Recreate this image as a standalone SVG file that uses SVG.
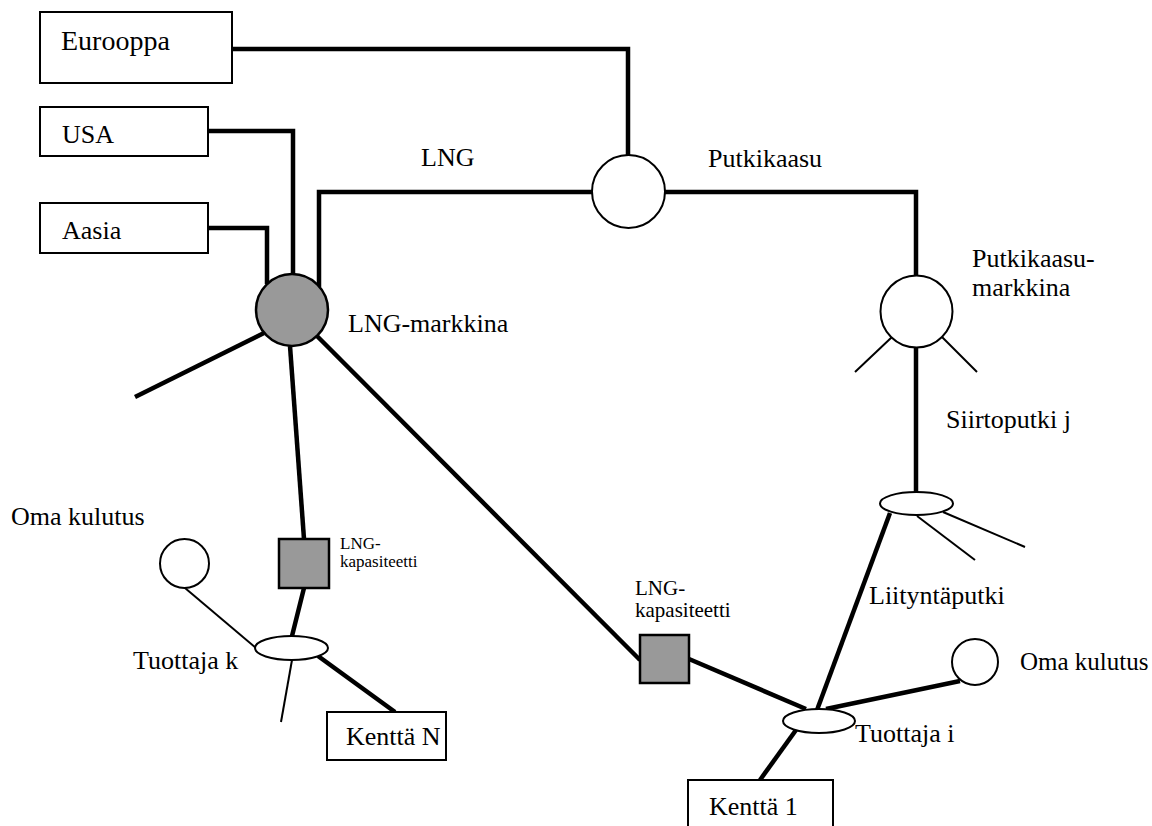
<svg xmlns="http://www.w3.org/2000/svg" width="1152" height="826" viewBox="0 0 1152 826">
<style>
.bg{fill:#fff}
.box{fill:#fff;stroke:#000;stroke-width:2}
.node{fill:#fff;stroke:#000;stroke-width:2}
.gray{fill:#999;stroke:#000;stroke-width:2.5}
.thick{fill:none;stroke:#000;stroke-width:4.5;stroke-linecap:butt;stroke-linejoin:miter}
.thin{fill:none;stroke:#000;stroke-width:2}
text{font-family:"Liberation Serif","Times New Roman",serif;fill:#000}
.t{font-size:26px}
.s{font-size:17px}
.s2{font-size:21px}
</style>
<rect class="bg" x="0" y="0" width="1152" height="826"/>
<g id="connectors">
<path class="thick" d="M232,49 H628 V155"/>
<path class="thick" d="M208,131 H293 V274"/>
<path class="thick" d="M208,228 H267 V284"/>
<path class="thick" d="M319,287 V192 H592"/>
<path class="thick" d="M665,192 H916 V275"/>
<path class="thick" d="M916,348 V492"/>
<path class="thick" d="M890,513 L817,710"/>
<path class="thick" d="M290,346 L304,539"/>
<path class="thick" d="M304,588 L292,636"/>
<path class="thick" d="M318,656 L395,712"/>
<path class="thick" d="M317,336 L640,660"/>
<path class="thick" d="M689,659 L806,709"/>
<path class="thick" d="M826,709 L960,681"/>
<path class="thick" d="M760,780 L796,730"/>
<path class="thick" d="M264,333 L135,397"/>
<path class="thin" d="M892,337 L855,372"/>
<path class="thin" d="M942,337 L977,372"/>
<path class="thin" d="M917,516 L975,560"/>
<path class="thin" d="M943,512 L1025,547"/>
<path class="thin" d="M185,588 L256,648"/>
<path class="thin" d="M292,660 L281,722"/>
</g>
<g id="eurooppa"><rect class="box" x="40" y="12" width="192" height="71"/><text x="61" y="50" style="font-size:28px">Eurooppa</text></g>
<g id="usa"><rect class="box" x="40" y="107" width="168" height="49"/><text class="t" x="62" y="143">USA</text></g>
<g id="aasia"><rect class="box" x="40" y="203" width="168" height="50"/><text class="t" x="62" y="239">Aasia</text></g>
<g id="hub"><circle class="node" cx="628.5" cy="191.5" r="36.5"/></g>
<g id="label-lng"><text class="t" x="421" y="166">LNG</text></g>
<g id="label-putkikaasu"><text class="t" x="708" y="167">Putkikaasu</text></g>
<g id="lng-markkina"><circle class="gray" cx="292" cy="310" r="36"/><text class="t" x="348" y="332">LNG-markkina</text></g>
<g id="putkikaasu-markkina"><circle class="node" cx="916.5" cy="311.5" r="36"/><text class="t" x="972" y="267">Putkikaasu-</text><text class="t" x="972" y="296">markkina</text></g>
<g id="siirtoputki"><ellipse class="node" cx="916.5" cy="503.5" rx="36.5" ry="11.5"/><text class="t" x="946" y="428">Siirtoputki j</text></g>
<g id="liityntaputki"><text class="t" x="869" y="604">Liityntäputki</text></g>
<g id="oma-kulutus-k"><circle class="node" cx="184.5" cy="563.5" r="24.5"/><text class="t" x="11" y="525">Oma kulutus</text></g>
<g id="lng-kap-k"><rect class="gray" x="279" y="539" width="50" height="49"/><text class="s" x="340" y="549">LNG-</text><text class="s" x="340" y="567">kapasiteetti</text></g>
<g id="tuottaja-k"><ellipse class="node" cx="291.5" cy="648" rx="36.5" ry="12"/><text class="t" x="133" y="669">Tuottaja k</text></g>
<g id="kentta-n"><rect class="box" x="327" y="712" width="119" height="48"/><text class="t" x="346" y="745">Kenttä N</text></g>
<g id="lng-kap-i"><rect class="gray" x="640" y="635" width="49" height="48"/><text class="s2" x="635" y="595">LNG-</text><text class="s2" x="635" y="617">kapasiteetti</text></g>
<g id="tuottaja-i"><ellipse class="node" cx="819" cy="721" rx="36" ry="12"/><text class="t" x="855" y="742">Tuottaja i</text></g>
<g id="oma-kulutus-i"><circle class="node" cx="975" cy="662" r="23"/><text x="1020" y="670" style="font-size:25px">Oma kulutus</text></g>
<g id="kentta-1"><rect class="box" x="688" y="780" width="145" height="60"/><text class="t" x="709" y="815">Kenttä 1</text></g>
</svg>
